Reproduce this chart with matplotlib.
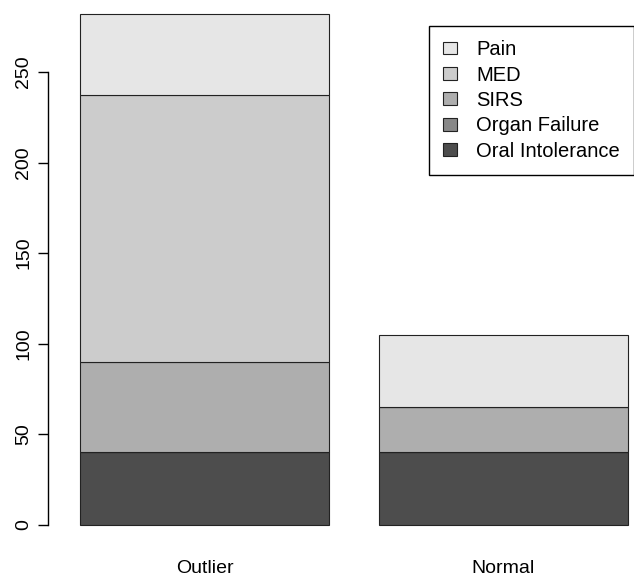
import matplotlib
matplotlib.use("Agg")
import matplotlib.pyplot as plt
import numpy as np

# Data (stacked from bottom to top)
groups = ["Outlier", "Normal"]
oral_intolerance = [40, 40]
organ_failure = [0, 0]
sirs = [50, 25]
med = [147, 0]
pain = [45, 40]

series = [
    ("Oral Intolerance", oral_intolerance, "#4D4D4D"),
    ("Organ Failure", organ_failure, "#888888"),
    ("SIRS", sirs, "#AEAEAE"),
    ("MED", med, "#CCCCCC"),
    ("Pain", pain, "#E6E6E6"),
]

plt.rcParams["font.family"] = ["Liberation Sans", "DejaVu Sans"]

W, H = 634, 579
fig = plt.figure(figsize=(W / 100, H / 100), dpi=100)
# axes from pixel x=48 to right edge, y=0 (top) to 545 (bottom)
ax = fig.add_axes([48 / W, (H - 545.4) / H, (W - 48) / W, 545.4 / H])

x = np.array([0.7, 1.9])
bottom = np.zeros(len(groups))
handles = []
for name, vals, col in series:
    b = ax.bar(x, vals, width=1.0, bottom=bottom, color=col,
               edgecolor="#222222", linewidth=0.8, label=name)
    handles.append(b)
    bottom += np.array(vals)

ax.set_xlim(0.2 - 32 / 249, 0.2 + (W - 80) / 249)
ax.set_ylim(-11.28, 289.7)

for s in ["top", "right", "bottom"]:
    ax.spines[s].set_visible(False)
ax.spines["left"].set_bounds(0, 250)
ax.spines["left"].set_linewidth(1.0)
ax.set_yticks([0, 50, 100, 150, 200, 250])
ax.tick_params(axis="y", direction="out", length=7.5, width=1.0,
               labelsize=14, labelrotation=90, pad=4)
for lab in ax.get_yticklabels():
    lab.set_va("center")
ax.set_xticks([])

# group labels under bars
for xi, g in zip(x, groups):
    ax.text(xi, -24, g, ha="center", va="center", fontsize=14, clip_on=False)

leg = ax.legend(handles[::-1], [s[0] for s in series][::-1],
                loc="upper left", bbox_to_anchor=(429 / W, 1 - 26 / H),
                bbox_transform=fig.transFigure, fontsize=14.5,
                frameon=True, fancybox=False, edgecolor="black",
                framealpha=1, borderaxespad=0, borderpad=0.7,
                handlelength=0.7, handleheight=0.6, handletextpad=0.95,
                labelspacing=0.32)
leg.get_frame().set_linewidth(1.0)

fig.savefig("out.png", dpi=100)
